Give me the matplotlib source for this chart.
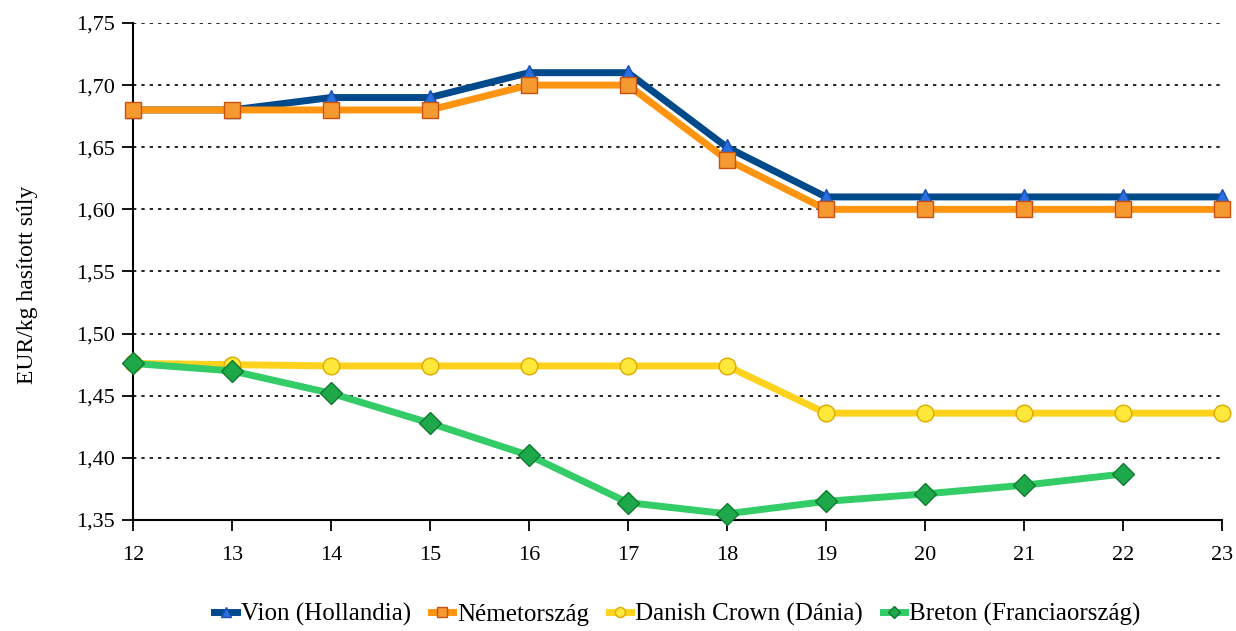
import numpy as np
import matplotlib.pyplot as plt
from matplotlib.ticker import FuncFormatter

plt.rcParams['font.family'] = ['Liberation Serif', 'DejaVu Serif']

weeks = [12, 13, 14, 15, 16, 17, 18, 19, 20, 21, 22, 23]
vion = [1.68, 1.68, 1.69, 1.69, 1.71, 1.71, 1.65, 1.61, 1.61, 1.61, 1.61, 1.61]
nemet = [1.68, 1.68, 1.68, 1.68, 1.70, 1.70, 1.64, 1.60, 1.60, 1.60, 1.60, 1.60]
danish = [1.476, 1.475, 1.474, 1.474, 1.474, 1.474, 1.474, 1.436, 1.436, 1.436, 1.436, 1.436]
breton = [1.476, 1.470, 1.452, 1.428, 1.402, 1.364, 1.355, 1.365, 1.371, 1.378, 1.387]

labels = ['Vion (Hollandia)', 'Németország', 'Danish Crown (Dánia)', 'Breton (Franciaország)']

fig = plt.figure(figsize=(12.36, 6.31), dpi=100)
ax = fig.add_axes([0.1076, 0.1759, 0.881, 0.7877])

ax.plot(weeks, vion, color='#004a8c', lw=5, marker='^', ms=12,
        mfc='#2a6fe0', mec='#1a4fb0', label=labels[0], zorder=4, clip_on=False)
ax.plot(weeks, nemet, color='#ff9410', lw=5, marker='s', ms=11,
        mfc='#f59a30', mec='#c85010', label=labels[1], zorder=5, clip_on=False)
ax.plot(weeks, danish, color='#ffd21e', lw=5, marker='o', ms=12,
        mfc='#ffe83a', mec='#e0a800', label=labels[2], zorder=3, clip_on=False)
ax.plot(weeks[:len(breton)], breton, color='#33cc66', lw=5, marker='D', ms=11,
        mfc='#1ea84a', mec='#0f7a30', label=labels[3], zorder=6, clip_on=False)

ax.set_xlim(12, 23)
ax.set_ylim(1.35, 1.75)
ax.set_xticks(weeks)
ax.set_yticks(np.arange(1.35, 1.751, 0.05))
ax.yaxis.set_major_formatter(FuncFormatter(lambda v, p: f'{v:.2f}'.replace('.', ',')))
ax.tick_params(labelsize=16, length=8, width=1.3, direction='out', colors='black')
ax.tick_params(axis='x', pad=11)
ax.tick_params(axis='y', pad=5)
ax.grid(axis='y', color='black', linestyle=(0, (2, 3)), lw=1.2)
ax.set_axisbelow(True)
for s in ['top', 'right']:
    ax.spines[s].set_visible(False)
for s in ['left', 'bottom']:
    ax.spines[s].set_linewidth(1.5)

fig.text(28 / 1236, 1 - 285 / 631, 'EUR/kg hasított súly', fontsize=17,
         rotation=90, ha='center', va='center')

ax.legend(loc='center', bbox_to_anchor=(0.5, -0.19), ncol=4, frameon=False,
          fontsize=18, handlelength=0.9, handletextpad=0.15, columnspacing=0.8,
          markerscale=0.6)

plt.savefig('out.png', dpi=100)
